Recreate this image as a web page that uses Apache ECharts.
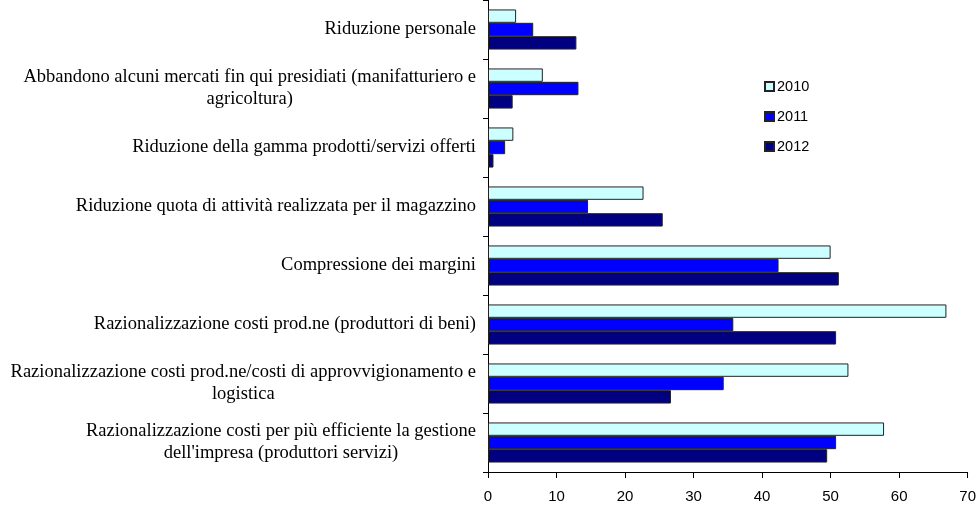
<!DOCTYPE html>
<html>
<head>
<meta charset="utf-8">
<script src="https://cdn.jsdelivr.net/npm/echarts@6/dist/echarts.min.js"></script>
<style>
    html, body { margin: 0; padding: 0; background: #fff; }
    #chart { width: 979px; height: 508px; }
</style>
</head>
<body>
<div id="chart"></div>
<script>
// categories from top to bottom
const categories = [
    'Riduzione personale',
    'Abbandono alcuni mercati fin qui presidiati (manifatturiero e\nagricoltura)',
    'Riduzione della gamma prodotti/servizi offerti',
    'Riduzione quota di attività realizzata per il magazzino',
    'Compressione dei margini',
    'Razionalizzazione costi prod.ne (produttori di beni)',
    'Razionalizzazione costi prod.ne/costi di approvvigionamento e\nlogistica',
    "Razionalizzazione costi per più efficiente la gestione\ndell'impresa (produttori servizi)",
];

const years = ['2010', '2011', '2012'];

const values2010 = [4.1, 8.0, 3.7, 22.7, 50.0, 66.9, 52.6, 57.8];
const values2011 = [6.6, 13.2, 2.5, 14.6, 42.4, 35.8, 34.4, 50.8];
const values2012 = [12.9, 3.6, 0.8, 25.5, 51.2, 50.8, 26.7, 49.5];

const xTicks = { min: 0, max: 70, interval: 10 };

const colors = ['#CCFFFF', '#0000FF', '#000080'];

const numFont = 'Liberation Sans';
const labelFont = 'Liberation Serif';

const chart = echarts.init(document.getElementById('chart'));

const makeSeries = (name, data, color) => ({
    name,
    type: 'bar',
    data,
    barGap: '0%',
    barCategoryGap: '32%',
    itemStyle: {
        color,
        borderColor: '#222',
        borderWidth: 1,
    },
    emphasis: { disabled: true },
    animation: false,
});

// https://echarts.apache.org/en/option.html
chart.setOption({
    backgroundColor: '#fff',
    animation: false,
    legend: {
        orient: 'vertical',
        left: 764,
        top: 79,
        padding: 0,
        itemWidth: 9,
        itemHeight: 9,
        itemGap: 15,
        icon: 'rect',
        data: years,
        textStyle: {
            fontFamily: numFont,
            fontSize: 14.5,
            color: '#000',
            lineHeight: 14,
            padding: [0, 0, 0, -2],
        },
    },
    grid: {
        left: 488,
        right: 9,
        top: -2,
        bottom: 36,
        containLabel: false,
    },
    xAxis: {
        type: 'value',
        min: xTicks.min,
        max: xTicks.max,
        interval: xTicks.interval,
        axisLine: { show: true, lineStyle: { color: '#000', width: 1 } },
        axisTick: { show: true, length: 6, lineStyle: { color: '#000' } },
        splitLine: { show: false },
        axisLabel: {
            margin: 17,
            fontFamily: numFont,
            fontSize: 15,
            color: '#000',
        },
    },
    yAxis: {
        type: 'category',
        inverse: true,
        data: categories,
        axisLine: { show: true, lineStyle: { color: '#000', width: 1 } },
        axisTick: { show: true, length: 5, lineStyle: { color: '#000' } },
        axisLabel: {
            margin: 12,
            fontFamily: labelFont,
            fontSize: 18.5,
            color: '#000',
            lineHeight: 22,
            // center the wrapped lines under each other
            formatter: (v) => v.split('\n').map((l) => `{c|${l}}`).join('\n'),
            rich: {
                c: {
                    align: 'center',
                    fontFamily: labelFont,
                    fontSize: 18.5,
                    lineHeight: 22,
                    color: '#000',
                },
            },
        },
    },
    series: [
        makeSeries(years[0], values2010, colors[0]),
        makeSeries(years[1], values2011, colors[1]),
        makeSeries(years[2], values2012, colors[2]),
    ],
});
</script>
</body>
</html>
